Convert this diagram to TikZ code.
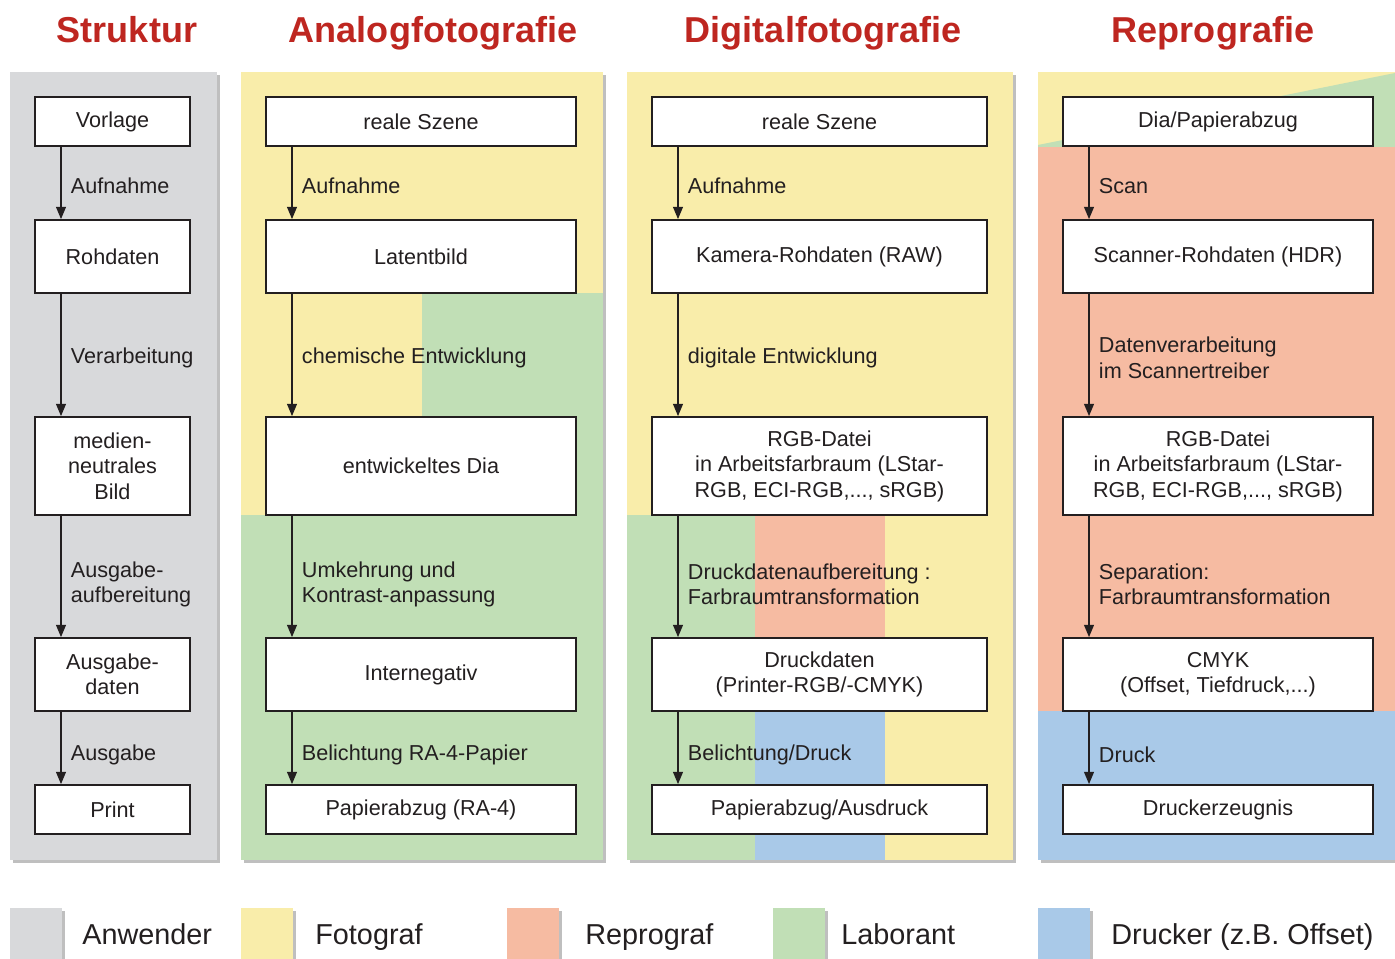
\documentclass[tikz,border=0pt]{standalone}
\usepackage{fontspec}
\setmainfont{Liberation Sans}
\usetikzlibrary{arrows.meta}

\definecolor{anwender}{RGB}{216,217,219}
\definecolor{fotograf}{RGB}{249,237,170}
\definecolor{reprograf}{RGB}{246,187,162}
\definecolor{laborant}{RGB}{193,223,182}
\definecolor{drucker}{RGB}{169,201,232}
\definecolor{titel}{RGB}{190,38,32}
\definecolor{ink}{RGB}{35,31,32}

\tikzset{
  box/.style={draw=ink, line width=0.9pt, fill=white, text=ink, align=center,
    inner sep=0pt, font=\fontsize{12.3}{14.5}\selectfont},
  rowlow/.style={minimum height=0.98cm},
  rowmid/.style={minimum height=1.46cm},
  rowhigh/.style={minimum height=1.96cm},
  lbl/.style={right, inner sep=0pt, xshift=0.18cm, yshift=-0.06cm, align=left,
    text=ink, font=\fontsize{12.3}{14.5}\selectfont},
  arr/.style={draw=ink, line width=1.1pt, -{Triangle[length=7pt,width=5.5pt]}},
  shadow/.style={fill=black!25},
  titlefont/.style={anchor=base, text=titel, font=\fontsize{20.5}{24}\selectfont\bfseries}
}

\begin{document}
\begin{tikzpicture}[x=0.02cm, y=-0.02cm]
    \useasboundingbox (0,0) rectangle (1395,959);

    %% titles
    \node[titlefont] (t1) at (127,43) {Struktur};
    \node[titlefont] (t2) at (433,43) {Analogfotografie};
    \node[titlefont] (t3) at (823,43) {Digitalfotografie};
    \node[titlefont] (t4) at (1213,43) {Reprografie};

    %% shadows of the panels
    \fill[shadow] (13,75) rectangle (220,863);
    \fill[shadow] (244,75) rectangle (606,863);
    \fill[shadow] (630,75) rectangle (1016,863);
    \fill[shadow] (1041,75) rectangle (1395,863);

    %% panel Struktur
    \fill[anwender] (10,72) rectangle (217,860);

    %% panel Analogfotografie
    \fill[fotograf] (241,72) rectangle (603,515);
    \fill[laborant] (422,293) rectangle (603,515);
    \fill[laborant] (241,515) rectangle (603,860);

    %% panel Digitalfotografie
    \fill[fotograf] (627,72) rectangle (1013,860);
    \fill[laborant] (627,515) rectangle (755,860);
    \fill[reprograf] (755,515) rectangle (885,711);
    \fill[drucker] (755,711) rectangle (885,860);

    %% panel Reprografie
    \fill[fotograf] (1038,72) rectangle (1395,147);
    \fill[laborant] (1038,145) -- (1395,73) -- (1395,147) -- (1038,147) -- cycle;
    \fill[reprograf] (1038,147) rectangle (1395,711);
    \fill[drucker] (1038,711) rectangle (1395,860);

    %% arrow columns
    \coordinate (a1) at (61,0);
    \coordinate (a2) at (292,0);
    \coordinate (a3) at (678,0);
    \coordinate (a4) at (1089,0);

    %% Struktur
    \begin{scope}[every node/.append style={minimum width=3.1cm}]
      \node[box, rowlow] (vorlage) at (112.5,121.5) {Vorlage};
      \node[box, rowmid] (rohdaten) at (112.5,256.5) {Rohdaten};
      \node[box, rowhigh] (neutral) at (112.5,466) {medien-\\neutrales\\Bild};
      \node[box, rowmid] (ausgabedaten) at (112.5,674.5) {Ausgabe-\\daten};
      \node[box, rowlow] (print) at (112.5,809.5) {Print};
    \end{scope}
    \draw[arr] (vorlage.south -| a1) -- (rohdaten.north -| a1)
      node[lbl, midway]{Aufnahme};
    \draw[arr] (rohdaten.south -| a1) -- (neutral.north -| a1)
      node[lbl, midway]{Verarbeitung};
    \draw[arr] (neutral.south -| a1) -- (ausgabedaten.north -| a1)
      node[lbl, midway, yshift=-0.1cm]{Ausgabe-\\aufbereitung};
    \draw[arr] (ausgabedaten.south -| a1) -- (print.north -| a1)
      node[lbl, midway, yshift=-0.08cm]{Ausgabe};

    %% Analogfotografie
    \begin{scope}[every node/.append style={minimum width=6.2cm}]
      \node[box, rowlow] (szeneA) at (421,121.5) {reale Szene};
      \node[box, rowmid] (latent) at (421,256.5) {Latentbild};
      \node[box, rowhigh] (dia) at (421,466) {entwickeltes Dia};
      \node[box, rowmid] (internegativ) at (421,674.5) {Internegativ};
      \node[box, rowlow] (abzugA) at (421,809.5) {Papierabzug (RA-4)};
    \end{scope}
    \draw[arr] (szeneA.south -| a2) -- (latent.north -| a2)
      node[lbl, midway]{Aufnahme};
    \draw[arr] (latent.south -| a2) -- (dia.north -| a2)
      node[lbl, midway]{chemische Entwicklung};
    \draw[arr] (dia.south -| a2) -- (internegativ.north -| a2)
      node[lbl, midway, yshift=-0.1cm]{Umkehrung und\\Kontrast-anpassung};
    \draw[arr] (internegativ.south -| a2) -- (abzugA.north -| a2)
      node[lbl, midway, yshift=-0.08cm]{Belichtung RA-4-Papier};

    %% Digitalfotografie
    \begin{scope}[every node/.append style={minimum width=6.7cm}]
      \node[box, rowlow] (szeneD) at (819.5,121.5) {reale Szene};
      \node[box, rowmid] (rawD) at (819.5,256.5) {Kamera-Rohdaten (RAW)};
      \node[box, rowhigh] (rgbD) at (819.5,466) {RGB-Datei\\in Arbeitsfarbraum (LStar-\\RGB, ECI-RGB,..., sRGB)};
      \node[box, rowmid] (druckD) at (819.5,674.5) {Druckdaten\\(Printer-RGB/-CMYK)};
      \node[box, rowlow] (abzugD) at (819.5,809.5) {Papierabzug/Ausdruck};
    \end{scope}
    \draw[arr] (szeneD.south -| a3) -- (rawD.north -| a3)
      node[lbl, midway]{Aufnahme};
    \draw[arr] (rawD.south -| a3) -- (rgbD.north -| a3)
      node[lbl, midway]{digitale Entwicklung};
    \draw[arr] (rgbD.south -| a3) -- (druckD.north -| a3)
      node[lbl, midway, yshift=-0.1cm]{Druckdatenaufbereitung :\\Farbraumtransformation};
    \draw[arr] (druckD.south -| a3) -- (abzugD.north -| a3)
      node[lbl, midway, yshift=-0.08cm]{Belichtung/Druck};

    %% Reprografie
    \begin{scope}[every node/.append style={minimum width=6.2cm}]
      \node[box, rowlow] (diaR) at (1218,121.5) {Dia/Papierabzug};
      \node[box, rowmid] (scanR) at (1218,256.5) {Scanner-Rohdaten (HDR)};
      \node[box, rowhigh] (rgbR) at (1218,466) {RGB-Datei\\in Arbeitsfarbraum (LStar-\\RGB, ECI-RGB,..., sRGB)};
      \node[box, rowmid] (cmyk) at (1218,674.5) {CMYK\\(Offset, Tiefdruck,...)};
      \node[box, rowlow] (erzeugnis) at (1218,809.5) {Druckerzeugnis};
    \end{scope}
    \draw[arr] (diaR.south -| a4) -- (scanR.north -| a4)
      node[lbl, midway]{Scan};
    \draw[arr] (scanR.south -| a4) -- (rgbR.north -| a4)
      node[lbl, midway]{Datenverarbeitung\\im Scannertreiber};
    \draw[arr] (rgbR.south -| a4) -- (cmyk.north -| a4)
      node[lbl, midway, yshift=-0.1cm]{Separation:\\Farbraumtransformation};
    \draw[arr] (cmyk.south -| a4) -- (erzeugnis.north -| a4)
      node[lbl, midway, yshift=-0.08cm]{Druck};

    %% legend
    \foreach \x/\t/\c/\name in {10/82/anwender/Anwender, 241/315/fotograf/Fotograf,
        507/585/reprograf/Reprograf, 773/841/laborant/Laborant,
        1038/1111/drucker/Drucker (z.B. Offset)}{
      \fill[shadow] (\x+3,911) rectangle (\x+55,962);
      \fill[\c] (\x,908) rectangle (\x+52,962);
      \node[anchor=base west, inner sep=0pt, text=ink, font=\fontsize{16.4}{19}\selectfont]
        (leg-\c) at (\t,944) {\name};
    }
\end{tikzpicture}
\end{document}
